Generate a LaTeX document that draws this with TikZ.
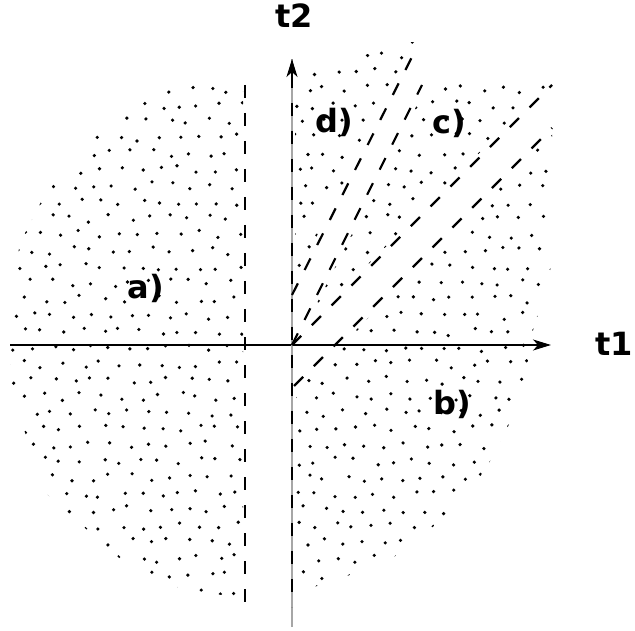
\documentclass[tikz,border=0pt]{standalone}
\usepackage{fontspec}
\setmainfont{DejaVu Sans}
\usetikzlibrary{arrows.meta}
\tikzset{
  bnd/.style={line width=2.2pt, dash pattern=on 13pt off 15pt},
  axisline/.style={line width=1.1pt, -{Stealth[length=18pt,width=11pt,inset=5pt]}},
  lbl/.style={font=\bfseries\fontsize{32}{36}\selectfont, inner sep=0pt},
  dotmark/.style={fill=black}
}
\begin{document}
\begin{tikzpicture}[x=1pt,y=-1pt]
\useasboundingbox (0,0) rectangle (635,631);
% named points
\coordinate (O) at (292,345);
\coordinate (Ab) at (292,295);
\coordinate (At) at (418,45);
\coordinate (Bt) at (422,85);
\coordinate (Ct) at (552,85);
\coordinate (Db) at (294,386);
\coordinate (Dt) at (552,128);
\coordinate (Vt) at (245,85);
\coordinate (Vb) at (245,605);
\coordinate (Yt) at (292,59);
\coordinate (Yh) at (292,85);
\coordinate (Yb) at (292,627);
\coordinate (Yd1) at (292,75);
\coordinate (Yd2) at (292,607);
\coordinate (Xl) at (10,345);
\coordinate (Xr) at (551,345);
% dots
\begin{scope}
\clip (243,80) -- (205,80) -- (150,95) -- (105,128) -- (68,165) -- (42,200) -- (20,243) -- (10,300) -- (10,395) -- (28,440) -- (33,465) -- (48,495) -- (78,522) -- (108,548) -- (135,572) -- (180,588) -- (228,596) -- (243,596) -- cycle
  (295,84) -- (326,60) -- (365,55) -- (400,43) -- (415,42) -- (295,279) -- cycle
  (304,329) -- (430,79) -- (553,79) -- cycle
  (296,390) -- (552,134) -- (552,262) -- (545,292) -- (530,340) -- (526,378) -- (512,418) -- (496,452) -- (468,495) -- (440,520) -- (414,545) -- (392,558) -- (332,582) -- (302,590) -- (296,590) -- cycle;
\pgfmathsetseed{11}
\foreach \j in {0,...,35} {
  \foreach \i in {0,...,29} {
    \pgfmathsetmacro\px{4 + \i*19.5 + mod(\j,2)*9.75 + 4.5*rand}
    \pgfmathsetmacro\py{40 + \j*16.2 + 4*rand}
    \fill[dotmark] (\px,\py) circle[radius=1.8];
  }
}
\end{scope}
% axes
\draw[axisline, black] (Xl) -- (Xr);
\draw[draw=gray!70, line width=1.3pt] (Yb) -- (Yt);
\draw[axisline, black] (Yh) -- (Yt);
% dashed boundaries
\draw[bnd] (Yd1) -- (Yd2);
\draw[bnd] (Vt) -- (Vb);
\draw[bnd] (Ab) -- (At);
\draw[bnd] (O) -- (Bt);
\draw[bnd] (O) -- (Ct);
\draw[bnd] (Db) -- (Dt);
% labels
\node[lbl] (t2) at (294,16) {t2};
\node[lbl] (t1) at (614,344) {t1};
\node[lbl] (la) at (146,288) {a)};
\node[lbl] (lb) at (452,404) {b)};
\node[lbl] (lc) at (449,123) {c)};
\node[lbl] (ld) at (334,122) {d)};
\end{tikzpicture}
\end{document}
